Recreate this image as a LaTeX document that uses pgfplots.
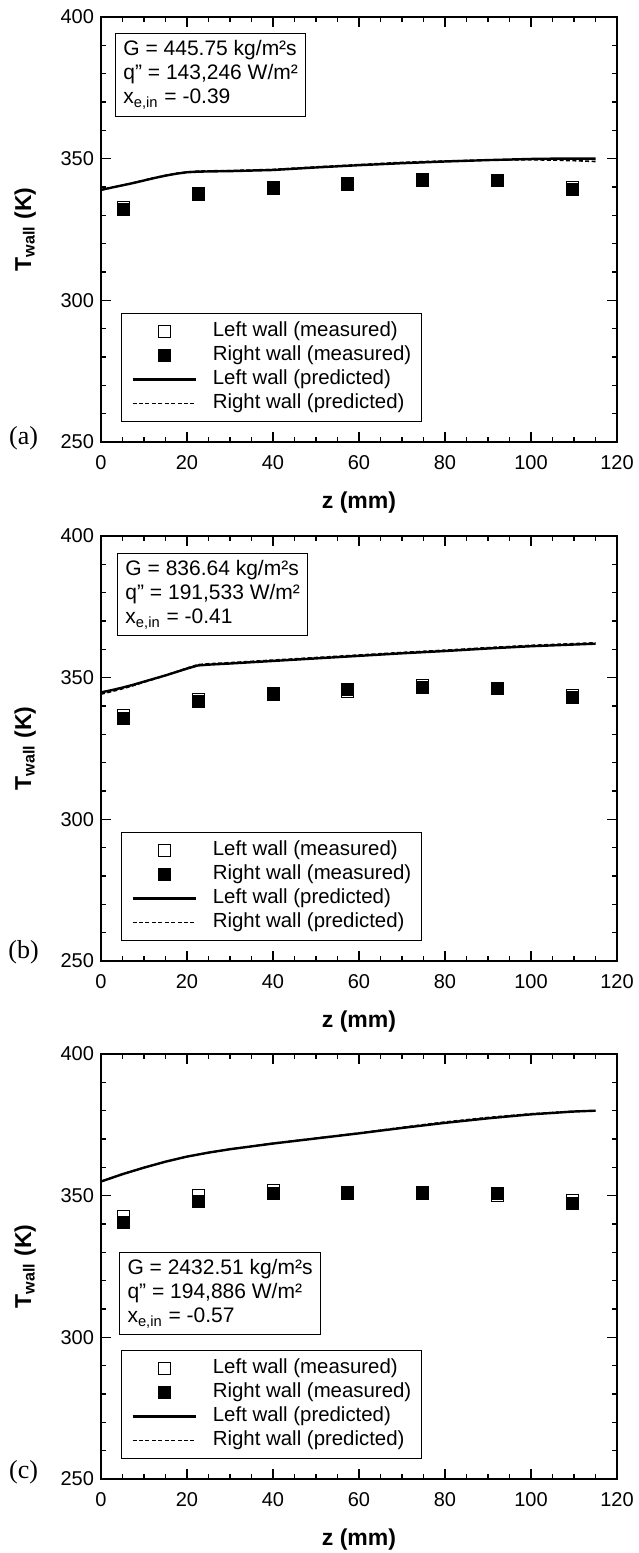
\documentclass[border=0pt]{standalone}
\usepackage{fontspec}
\setmainfont{Liberation Sans}
\newfontfamily\serifl{Liberation Serif}
\usepackage{pgfplots}
\pgfplotsset{compat=1.18}

\pgfplotsset{
 panel/.style={
  width=258pt, height=212.5pt, scale only axis,
  xmin=0, xmax=120, ymin=250, ymax=400,
  xtick={0,20,...,120}, ytick={250,300,350,400},
  minor x tick num=3, minor y tick num=4,
  tick align=inside, tick pos=both,
  major tick length=5pt, minor tick length=2.5pt,
  axis line style={line width=1pt},
  every tick/.style={black, line width=0.8pt},
  /pgf/number format/assume math mode=true,
  ticklabel style={font=\fontsize{10}{12}\selectfont},
  xticklabel style={yshift=-3pt},
  xlabel={z (mm)}, ylabel={T\textsubscript{wall} (K)},
  label style={font=\bfseries\fontsize{11.5}{13}\selectfont},
  xlabel style={at={(axis description cs:0.5,-0.1435)}, anchor=center},
  ylabel style={at={(axis description cs:-0.147,0.5)}, anchor=center},
  clip=false,
  legend cell align=left,
  legend style={at={(axis description cs:0,0)}, anchor=south west, xshift=10pt, yshift=10pt,
    draw=black, line width=0.5pt, inner xsep=5pt, inner ysep=4pt,
    font=\fontsize{10.2}{12}\selectfont, row sep=2pt,
    nodes={inner sep=0pt, text height=7.5pt, text depth=2.5pt},
    /tikz/every odd column/.append style={column sep=8pt}},
  legend image code/.code={\path[draw=none,fill=none] (0pt,-3pt) rectangle (31.5pt,3pt);
    \draw[mark repeat=2,mark phase=2,#1] plot coordinates {(0pt,0pt) (15.75pt,0pt) (31.5pt,0pt)};},
 },
 openm/.style={only marks, mark=square*, mark size=3pt, mark options={fill=white, draw=black, line width=0.4pt, solid}},
 fillm/.style={only marks, mark=square*, mark size=3pt, mark options={fill=black, draw=black, solid}},
 solidl/.style={black, line width=1.2pt, no marks},
 dashl/.style={black, line width=0.8pt, dash pattern=on 2pt off 1.2pt, no marks},
}
\tikzset{
 infobox/.style={draw, line width=0.5pt, anchor=north west, align=left, inner xsep=4pt, inner ysep=3.5pt, font=\fontsize{10.5}{12}\selectfont},
 plab/.style={font=\serifl\fontsize{13}{15}\selectfont},
}

\begin{document}
\begin{tikzpicture}
\useasboundingbox (0,0) rectangle (319pt,-776.5pt);

% ---------------- (a)
\begin{axis}[panel, at={(50.5pt,-8.5pt)}, anchor=north west]
\addplot[openm] coordinates {(5.2,332.8) (22.6,337.9) (40.0,339.4) (57.4,340.9) (74.8,342.8) (92.2,342.5) (109.6,339.7)};
\addplot[fillm] coordinates {(5.2,332.2) (22.6,337.3) (40.0,339.9) (57.4,341.4) (74.8,342.3) (92.2,342.2) (109.6,339.0)};
\addplot[solidl] coordinates {(0,339.0) (2.5,339.8) (5,340.6) (7.5,341.4) (10,342.3) (12.5,343.2) (15,344.0) (17.5,344.7) (20,345.2) (22.5,345.4) (25,345.5) (30,345.6) (40,346.0) (50,346.9) (60,347.7) (70,348.4) (80,349.0) (90,349.5) (100,349.9) (105,350.0) (110,350.0) (115,350.0)};
\addplot[dashl] coordinates {(0,338.9) (2.5,339.8) (5,340.6) (7.5,341.5) (10,342.4) (12.5,343.3) (15,344.1) (17.5,344.8) (20,345.3) (22.5,345.6) (25,345.7) (30,345.8) (40,346.2) (50,347.1) (60,347.9) (70,348.7) (80,349.2) (90,349.5) (100,349.6) (105,349.5) (110,349.3) (115,349.0)};
\legend{Left wall (measured), Right wall (measured), Left wall (predicted), Right wall (predicted)}
\node[infobox] at (axis description cs:0.027,0.962) {G = 445.75 kg/m²s\\q” = 143,246 W/m²\\x\textsubscript{e,in} = -0.39};
\node[plab] at (axis description cs:-0.15,0.01) {(a)};
\end{axis}

% ---------------- (b)
\begin{axis}[panel, at={(50.5pt,-268pt)}, anchor=north west]
\addplot[openm] coordinates {(5.2,336.7) (22.6,342.2) (40.0,344.2) (57.4,345.3) (74.8,347.1) (92.2,346.3) (109.6,343.7)};
\addplot[fillm] coordinates {(5.2,335.6) (22.6,341.5) (40.0,344.6) (57.4,345.8) (74.8,346.5) (92.2,346.1) (109.6,342.9)};
\addplot[solidl] coordinates {(0,344.8) (2.5,345.6) (5,346.5) (7.5,347.5) (10,348.6) (12.5,349.7) (15,350.8) (17.5,352.0) (20,353.2) (22.5,354.3) (25,354.6) (30,355.0) (40,355.9) (50,356.8) (60,357.7) (70,358.6) (80,359.4) (90,360.3) (100,361.1) (110,361.7) (115,362.0)};
\addplot[dashl] coordinates {(0,344.2) (2.5,345.1) (5,346.1) (7.5,347.2) (10,348.4) (12.5,349.6) (15,350.8) (17.5,352.1) (20,353.4) (22.5,354.6) (25,354.9) (30,355.3) (40,356.2) (50,357.1) (60,358.0) (70,358.9) (80,359.7) (90,360.6) (100,361.4) (110,362.0) (115,362.3)};
\legend{Left wall (measured), Right wall (measured), Left wall (predicted), Right wall (predicted)}
\node[infobox] at (axis description cs:0.031,0.96) {G = 836.64 kg/m²s\\q” = 191,533 W/m²\\x\textsubscript{e,in} = -0.41};
\node[plab] at (axis description cs:-0.15,0.02) {(b)};
\end{axis}

% ---------------- (c)
\begin{axis}[panel, at={(50.5pt,-527pt)}, anchor=north west]
\addplot[openm] coordinates {(5.2,342.6) (22.6,350.2) (40.0,352.0) (57.4,350.8) (74.8,350.7) (92.2,350.2) (109.6,348.2)};
\addplot[fillm] coordinates {(5.2,340.5) (22.6,347.9) (40.0,350.8) (57.4,351.2) (74.8,351.2) (92.2,350.7) (109.6,347.3)};
\addplot[solidl] coordinates {(0,355.0) (5,357.6) (10,359.9) (15,362.0) (20,363.8) (25,365.2) (30,366.4) (40,368.4) (50,370.2) (60,372.0) (70,373.9) (80,375.7) (90,377.3) (100,378.7) (110,379.7) (115,380.0)};
\addplot[dashl] coordinates {(0,355.0) (5,357.6) (10,359.9) (15,362.0) (20,363.8) (25,365.2) (30,366.4) (40,368.5) (50,370.3) (60,372.1) (70,374.1) (80,376.0) (90,377.6) (100,378.9) (110,379.8) (115,380.0)};
\legend{Left wall (measured), Right wall (measured), Left wall (predicted), Right wall (predicted)}
\node[infobox] at (axis description cs:0.035,0.534) {G = 2432.51 kg/m²s\\q” = 194,886 W/m²\\x\textsubscript{e,in} = -0.57};
\node[plab] at (axis description cs:-0.15,0.015) {(c)};
\end{axis}
\end{tikzpicture}
\end{document}
